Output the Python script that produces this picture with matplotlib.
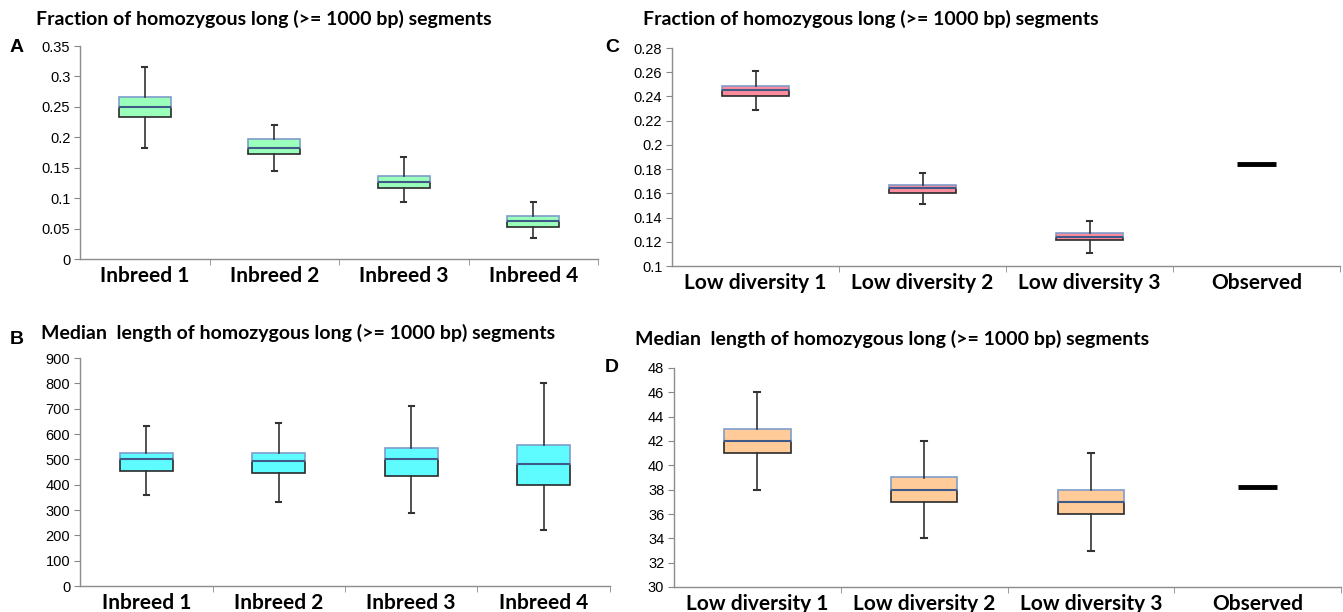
import matplotlib.pyplot as plt

# panel A / B: inbreed simulations
inbreed_labels = ["Inbreed 1", "Inbreed 2", "Inbreed 3", "Inbreed 4"]
frac_inb_low = [0.182, 0.145, 0.094, 0.035]
frac_inb_q1 = [0.233, 0.172, 0.116, 0.052]
frac_inb_med = [0.249, 0.183, 0.126, 0.062]
frac_inb_q3 = [0.266, 0.198, 0.137, 0.071]
frac_inb_high = [0.316, 0.220, 0.168, 0.094]

len_inb_low = [358, 332, 287, 220]
len_inb_q1 = [453, 448, 436, 397]
len_inb_med = [503, 494, 503, 480]
len_inb_q3 = [525, 525, 545, 558]
len_inb_high = [632, 642, 710, 800]

# panel C / D: low diversity simulations + observed value
lowdiv_labels = ["Low diversity 1", "Low diversity 2", "Low diversity 3", "Observed"]
frac_ld_low = [0.2288, 0.151, 0.111]
frac_ld_q1 = [0.2406, 0.1605, 0.1212]
frac_ld_med = [0.2453, 0.164, 0.1240]
frac_ld_q3 = [0.2488, 0.1672, 0.1275]
frac_ld_high = [0.2612, 0.177, 0.137]
frac_observed = 0.1843

len_ld_low = [38, 34, 33]
len_ld_q1 = [41, 37, 36]
len_ld_med = [42, 38, 37]
len_ld_q3 = [43, 39, 38]
len_ld_high = [46, 42, 41]
len_observed = 38.2

TITLE_FONT = dict(family="Lato", weight="bold", size=14)
XLAB_FONT = dict(family="Lato", weight="bold", size=15)


def draw_panel(ax, labels, low, q1, med, q3, high, fill, yticks, ylabels,
               observed=None):
    pos = list(range(len(low)))
    stats = []
    for i in pos:
        stats.append({"whislo": low[i], "q1": q1[i], "med": med[i],
                      "q3": q3[i], "whishi": high[i], "fliers": []})
    # box drawn as two stacked bars (Excel stock chart style)
    ax.bar(pos, [m - a for a, m in zip(q1, med)], bottom=q1, width=0.4,
           color=fill, edgecolor="#2a2a2a", linewidth=1.2, zorder=2)
    ax.bar(pos, [b - m for m, b in zip(med, q3)], bottom=med, width=0.4,
           color=fill, edgecolor="#7f9ccc", linewidth=1.2, zorder=2)
    ax.bxp(stats, positions=pos, showbox=False, showfliers=False,
           widths=0.4, capwidths=0.035,
           whiskerprops=dict(color="#333333", linewidth=1.2),
           capprops=dict(color="#333333", linewidth=1.5),
           medianprops=dict(color="#3f5a88", linewidth=1.5),
           zorder=3, manage_ticks=False)
    if observed is not None:
        ax.hlines(observed, 3 - 0.115, 3 + 0.115, color="black",
                  linewidth=3.5, zorder=3)

    ax.set_xlim(-0.5, len(labels) - 0.5)
    ax.set_ylim(yticks[0], yticks[-1])
    ax.set_yticks(yticks)
    ax.set_yticklabels(ylabels, family="Liberation Sans", fontsize=10.5)
    ax.set_xticks(range(len(labels)))
    ax.set_xticklabels(labels, **XLAB_FONT)
    ax.set_xticks([i + 0.5 for i in range(len(labels))], minor=True)
    ax.tick_params(axis="x", which="major", length=0, pad=5)
    ax.tick_params(axis="x", which="minor", length=4, color="#888888")
    ax.tick_params(axis="y", length=4, color="#888888", pad=3)
    for s in ["top", "right"]:
        ax.spines[s].set_visible(False)
    for s in ["left", "bottom"]:
        ax.spines[s].set_color("#8c8c8c")
        ax.spines[s].set_linewidth(1.0)


fig = plt.figure(figsize=(13.43, 6.12), dpi=100)

axA = fig.add_axes([80 / 1343, 1 - 259 / 612, 518 / 1343, 213 / 612])
axB = fig.add_axes([80 / 1343, 1 - 586 / 612, 530 / 1343, 228 / 612])
axC = fig.add_axes([672 / 1343, 1 - 266 / 612, 668 / 1343, 218 / 612])
axD = fig.add_axes([674 / 1343, 1 - 587 / 612, 667 / 1343, 219 / 612])

draw_panel(axA, inbreed_labels, frac_inb_low, frac_inb_q1, frac_inb_med,
           frac_inb_q3, frac_inb_high, "#99ffbb",
           [0, 0.05, 0.1, 0.15, 0.2, 0.25, 0.3, 0.35],
           ["0", "0.05", "0.1", "0.15", "0.2", "0.25", "0.3", "0.35"])
draw_panel(axB, inbreed_labels, len_inb_low, len_inb_q1, len_inb_med,
           len_inb_q3, len_inb_high, "#5efcff",
           list(range(0, 901, 100)), [str(v) for v in range(0, 901, 100)])
draw_panel(axC, lowdiv_labels, frac_ld_low, frac_ld_q1, frac_ld_med,
           frac_ld_q3, frac_ld_high, "#ff8c9c",
           [0.1, 0.12, 0.14, 0.16, 0.18, 0.2, 0.22, 0.24, 0.26, 0.28],
           ["0.1", "0.12", "0.14", "0.16", "0.18", "0.2", "0.22", "0.24",
            "0.26", "0.28"], observed=frac_observed)
draw_panel(axD, lowdiv_labels, len_ld_low, len_ld_q1, len_ld_med,
           len_ld_q3, len_ld_high, "#ffcc99",
           list(range(30, 49, 2)), [str(v) for v in range(30, 49, 2)],
           observed=len_observed)

# titles and panel letters
fig.text(36 / 1343, 1 - 19 / 612, "Fraction of homozygous long (>= 1000 bp) segments",
         va="center", ha="left", **TITLE_FONT)
fig.text(643 / 1343, 1 - 19 / 612, "Fraction of homozygous long (>= 1000 bp) segments",
         va="center", ha="left", **TITLE_FONT)
fig.text(41 / 1343, 1 - 333 / 612, "Median  length of homozygous long (>= 1000 bp) segments",
         va="center", ha="left", **TITLE_FONT)
fig.text(635 / 1343, 1 - 339 / 612, "Median  length of homozygous long (>= 1000 bp) segments",
         va="center", ha="left", **TITLE_FONT)

letter_font = dict(family="Liberation Sans", weight="bold", size=14)
fig.text(17 / 1343, 1 - 48 / 612, "A", va="center", ha="center", **letter_font)
fig.text(17 / 1343, 1 - 340 / 612, "B", va="center", ha="center", **letter_font)
fig.text(612 / 1343, 1 - 48 / 612, "C", va="center", ha="center", **letter_font)
fig.text(612 / 1343, 1 - 368 / 612, "D", va="center", ha="center", **letter_font)

fig.savefig("out.png", dpi=100, facecolor="white")
